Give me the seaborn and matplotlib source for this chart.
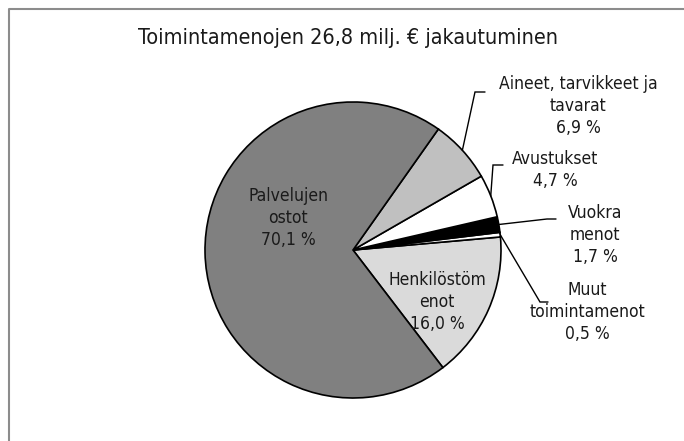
import numpy as np
import matplotlib
matplotlib.use("Agg")
import matplotlib.pyplot as plt
import seaborn as sns

# ---- data ----
categories = ["Henkilöstömenot", "Muut toimintamenot", "Vuokramenot",
              "Avustukset", "Aineet, tarvikkeet ja tavarat", "Palvelujen ostot"]
values = [16.0, 0.5, 1.7, 4.7, 6.9, 70.1]
label_texts = ["Henkilöstöm\nenot\n16,0 %", "Muut\ntoimintamenot\n0,5 %",
               "Vuokra\nmenot\n1,7 %", "Avustukset\n4,7 %",
               "Aineet, tarvikkeet ja\ntavarat\n6,9 %", "Palvelujen\nostot\n70,1 %"]
title = "Toimintamenojen 26,8 milj. € jakautuminen"

colors = ["#DADADA", "#FFFFFF", "#000000", "#FFFFFF", "#C0C0C0", "#808080"]

sns.set_theme(style="white")
plt.rcParams["font.family"] = ["DejaVu Sans"]
plt.rcParams["font.stretch"] = "condensed"

W, H = 684, 441
fig = plt.figure(figsize=(W / 100, H / 100), dpi=100)
ax = fig.add_axes([0, 0, 1, 1])

cx, cy, R = 353, 250, 148
def Y(y):
    return H - y

start = -52.6
wedges, _ = ax.pie(values, colors=colors, startangle=start, counterclock=True,
                   radius=R, center=(cx, Y(cy)),
                   wedgeprops=dict(edgecolor="black", linewidth=1.2))
ax.set_xlim(0, W)
ax.set_ylim(0, H)
ax.set_aspect("auto")
ax.axis("off")

tc = "#1a1a1a"
fs = 12.5
kw = dict(ha="center", va="center", fontsize=fs, color=tc, linespacing=1.3,
          fontstretch="condensed")
# inside labels
ax.text(288, Y(218), label_texts[5], **kw)
ax.text(437, Y(302), label_texts[0], **kw)

# outside labels with leader lines
outside = {
    4: dict(text=(578, 106), elbow=(475, 92), end=(485, 92)),
    3: dict(text=(555, 170), elbow=(493, 165), end=(503, 165)),
    2: dict(text=(595, 235), elbow=(547, 219), end=(556, 219)),
    1: dict(text=(587, 312), elbow=(540, 302), end=(548, 302)),
}
for i, o in outside.items():
    w = wedges[i]
    mid = np.deg2rad((w.theta1 + w.theta2) / 2)
    px, py = cx + R * np.cos(mid), Y(cy) + R * np.sin(mid)
    ex, ey = o["elbow"]
    fx, fy = o["end"]
    ax.plot([px, ex, fx], [py, Y(ey), Y(fy)], color="black", lw=1.0,
            solid_joinstyle="miter")
    ax.text(o["text"][0], Y(o["text"][1]), label_texts[i], **kw)

ax.text(348, Y(38), title, ha="center", va="center", fontsize=15.5, color=tc,
        fontstretch="condensed")

# chart border (left and top edges visible; the rest is cropped)
ax.plot([8.5, 8.5, W + 5], [-5, Y(8.5), Y(8.5)], color="#8c8c8c",
        lw=1.5, clip_on=False)

fig.savefig("out.png", dpi=100, facecolor="white")
